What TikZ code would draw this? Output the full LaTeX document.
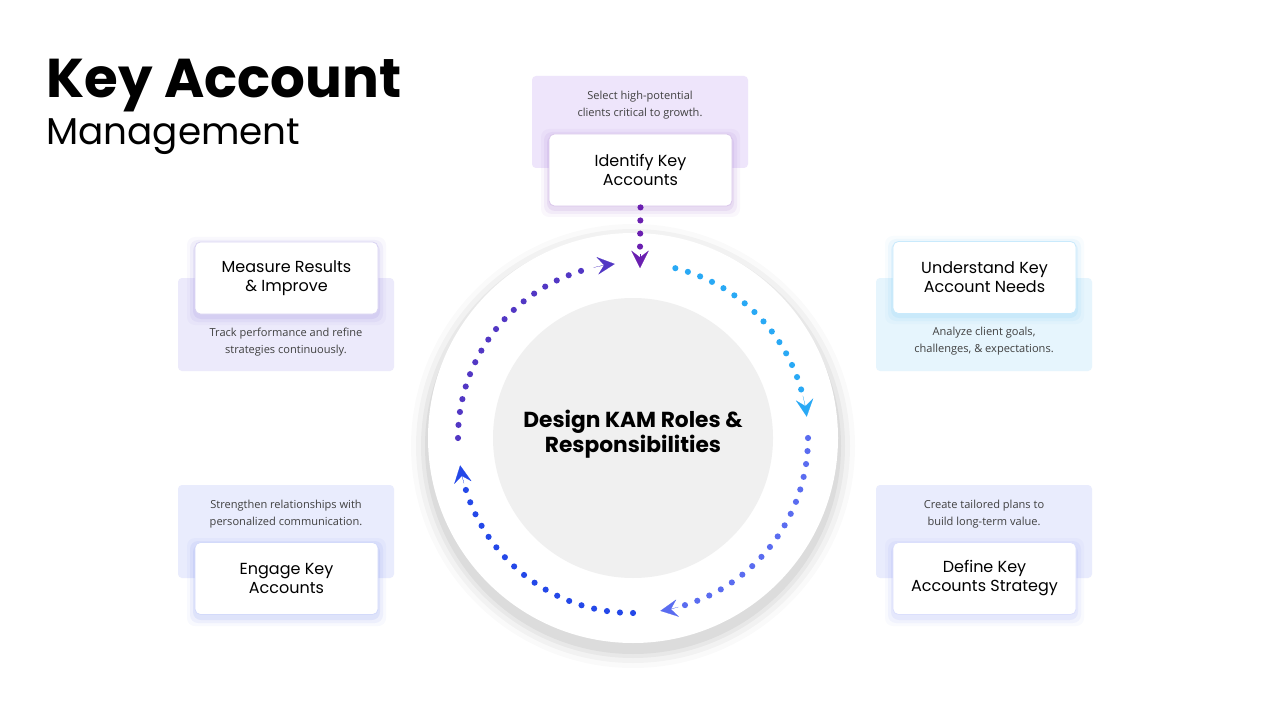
\documentclass[tikz,border=0pt]{standalone}
\usepackage{fontspec}
\setmainfont{Poppins}
\newfontfamily\descfont{Open Sans}
\usetikzlibrary{arrows.meta,calc}
\definecolor{cCyan}{HTML}{29A9F5}
\definecolor{cRB}{HTML}{5A6CF0}
\definecolor{cLB}{HTML}{2448E8}
\definecolor{cLT}{HTML}{5237C4}
\definecolor{cTop}{HTML}{6A1FB0}
\definecolor{pLav}{HTML}{EEE5FB}
\definecolor{pLav2}{HTML}{ECEAFB}
\definecolor{pCyan}{HTML}{E6F5FD}
\definecolor{pBlue}{HTML}{E9ECFD}
\tikzset{
 panel/.style={rounded corners=3pt, draw=none},
 stepbox/.style={rounded corners=4pt, fill=white, draw=#1, line width=0.6pt},
 boxtext/.style={font=\fontsize{12}{14.2}\selectfont, align=center, text=black},
 desc/.style={font=\descfont\fontsize{8.3}{12.5}\selectfont, align=center, text=black!75},
 dotted arc/.style={line width=4.6pt, line cap=round, dash pattern=on 0pt off 9.8pt, draw=#1},
 tip/.style={-{Stealth[length=13pt,width=13pt,inset=5pt]}, line width=0.1pt, draw=#1, fill=#1},
}
\begin{document}
\begin{tikzpicture}[x=0.75pt,y=-0.75pt]
\useasboundingbox (0,0) rectangle (1280,720);
\fill[white] (0,0) rectangle (1280,720);
% title
\node[anchor=base west, inner sep=0, font=\fontsize{41}{46}\selectfont\bfseries] (t1) at (46,98) {Key Account};
\node[anchor=base west, inner sep=0, font=\fontsize{28}{32}\selectfont] (t2) at (46,145) {Management};
% outer shadow circle
\coordinate (c) at (633,438);
\foreach \r/\o in {222/0.02,217/0.03,212/0.04,208/0.05}
  \fill[black, opacity=\o] ($(c)+(0,8)$) circle (\r);
\fill[white] (c) circle (205);
\fill[black!6] (c) circle (140);
\node[font=\fontsize{16.3}{19}\selectfont\bfseries, align=center] (ct) at (633,434) {Design KAM Roles \&\\Responsibilities};
% panels
\fill[pLav, panel] (532,76) rectangle (748,168);
\fill[pLav2, panel] (178,278) rectangle (394,371);
\fill[pCyan, panel] (876,278) rectangle (1092,371);
\fill[pBlue, panel] (178,485) rectangle (394,578);
\fill[pBlue, panel] (876,485) rectangle (1092,578);
% glows
\foreach \x/\y/\col in {549/134/cTop, 195/242/cLT, 893/241/cCyan, 195/543/cLB, 893/543/cRB}{
  \foreach \g/\o in {8/0.03,5/0.05,2/0.07}
   \fill[\col, opacity=\o, rounded corners=6pt] (\x-\g,\y-\g+3) rectangle (\x+183+\g,\y+72+\g+3);
}
% boxes
\node[stepbox=cTop!25, minimum width=137.25pt, minimum height=54pt, boxtext] (b1) at (640.5,170) {Identify Key\\Accounts};
\node[stepbox=cLT!22, minimum width=137.25pt, minimum height=54pt, boxtext] (b5) at (286.5,278) {Measure Results\\\& Improve};
\node[stepbox=cCyan!25, minimum width=137.25pt, minimum height=54pt, boxtext] (b2) at (984.5,277.5) {Understand Key\\Account Needs};
\node[stepbox=cLB!20, minimum width=137.25pt, minimum height=54pt, boxtext] (b4) at (286.5,578.5) {Engage Key\\Accounts};
\node[stepbox=cRB!22, minimum width=137.25pt, minimum height=54pt, boxtext] (b3) at (984.5,578.5) {Define Key\\Accounts Strategy};
% descriptions
\node[desc] (d1) at (640,105) {Select high-potential\\clients critical to growth.};
\node[desc] (d5) at (286,342) {Track performance and refine\\strategies continuously.};
\node[desc] (d2) at (984,341) {Analyze client goals,\\challenges, \& expectations.};
\node[desc] (d4) at (286,514) {Strengthen relationships with\\personalized communication.};
\node[desc] (d3) at (984,514) {Create tailored plans to\\build long-term value.};
% top connector
\coordinate (ta) at (640,268);
\draw[dotted arc=cTop] ($(b1.south)+(0,1)$) -- (640,249);
\draw[tip=cTop] (640,254) -- (ta);
% arcs (screen angles, clockwise from east)
\draw[dotted arc=cCyan] ($(c)+(-76:175)$) arc[start angle=-76, end angle=-16, radius=175];
\draw[tip=cCyan] ($(c)+(-14:175)$) arc[start angle=-14, end angle=-7, radius=175];
\draw[dotted arc=cRB] ($(c)+(0:175)$) arc[start angle=0, end angle=74, radius=175];
\draw[tip=cRB] ($(c)+(75:175)$) arc[start angle=75, end angle=81, radius=175];
\draw[dotted arc=cLB] ($(c)+(90:175)$) arc[start angle=90, end angle=164, radius=175];
\draw[tip=cLB] ($(c)+(165:175)$) arc[start angle=165, end angle=171, radius=175];
\draw[dotted arc=cLT] ($(c)+(180:175)$) arc[start angle=180, end angle=257, radius=175];
\draw[tip=cLT] ($(c)+(257:175)$) arc[start angle=257, end angle=264, radius=175];
\end{tikzpicture}
\end{document}
